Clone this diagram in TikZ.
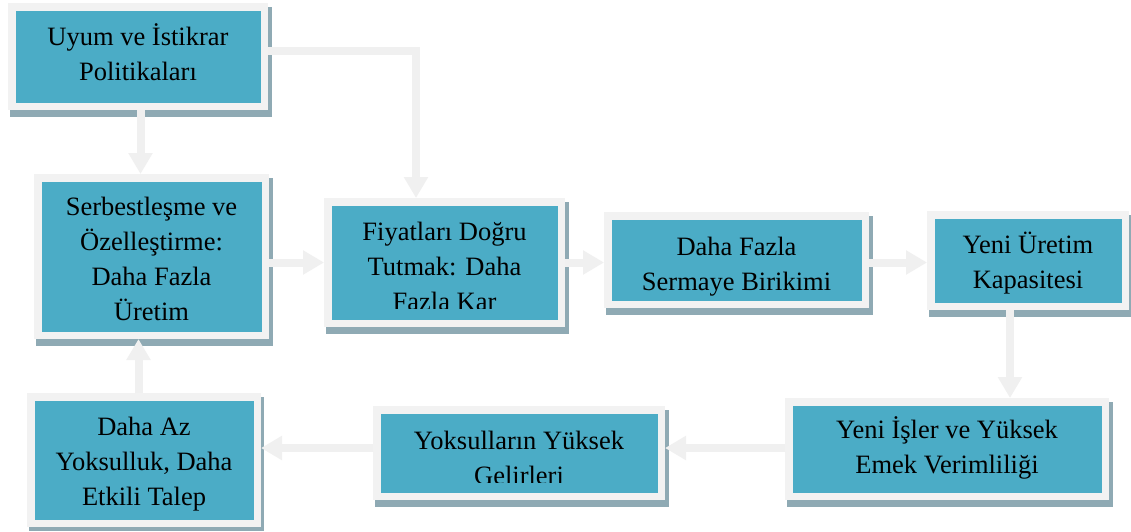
\documentclass[tikz,border=0pt]{standalone}
\usepackage{fontspec}
\setmainfont{Liberation Serif}
\usetikzlibrary{arrows.meta}
\definecolor{boxteal}{HTML}{4BACC6}
\definecolor{boxedge}{HTML}{F2F2F2}
\definecolor{shadowc}{HTML}{8FAAB4}
\definecolor{arrowc}{HTML}{F0F0F0}
\newcommand{\firstl}{\rule{0pt}{24pt}}
\begin{document}
\begin{tikzpicture}[x=1pt,y=-1pt,
  box/.style={draw=boxedge, fill=boxteal, line width=7.5pt, inner sep=0pt, rectangle},
  shade/.style={fill=shadowc},
  txt/.style={align=center, font=\fontsize{26.5}{35}\selectfont, inner sep=0pt, anchor=north, text=black},
  arr/.style={draw=arrowc, line width=8pt, -{Triangle[width=23pt,length=21pt]}}]
\useasboundingbox[fill=white] (0,0) rectangle (1131,531);
% shadows
\fill[shade] (10,7) rectangle (272,117);
\fill[shade] (36,178) rectangle (273,346);
\fill[shade] (326,202) rectangle (569,334);
\fill[shade] (606,216) rectangle (873,315);
\fill[shade] (929,215) rectangle (1131,317);
\fill[shade] (787,402) rectangle (1113,507);
\fill[shade] (375,410) rectangle (669,507);
\fill[shade] (29,397) rectangle (264,531);
% boxes
\node[box, minimum width=252.5pt, minimum height=99.5pt] (u) at (138,56.5) {};
\node[box, minimum width=227.5pt, minimum height=157.5pt] (s) at (151.5,256.5) {};
\node[box, minimum width=233.5pt, minimum height=121.5pt] (f) at (444.5,262.5) {};
\node[box, minimum width=257.5pt, minimum height=88.5pt] (sm) at (736.5,260) {};
\node[box, minimum width=194.5pt, minimum height=91.5pt] (yu) at (1028,260.5) {};
\node[box, minimum width=316.5pt, minimum height=94.5pt] (yi) at (947,449) {};
\node[box, minimum width=284.5pt, minimum height=86.5pt] (yo) at (519,453) {};
\node[box, minimum width=226.5pt, minimum height=126.5pt] (da) at (144,460) {};
% texts
\node[txt] (tu) at (138,21) {\firstl Uyum ve İstikrar\\Politikaları};
\node[txt] (ts) at (151.5,191) {\firstl Serbestleşme ve\\Özelleştirme:\\Daha Fazla\\Üretim};
\begin{scope}
\clip (332,206) rectangle (557,308.5);
\node[txt] (tf) at (444.5,216.5) {\firstl Fiyatları Doğru\\Tutmak: Daha\\Fazla Kar};
\end{scope}
\node[txt] (tsm) at (736.5,231) {\firstl Daha Fazla\\Sermaye Birikimi};
\node[txt] (tyu) at (1028,229) {\firstl Yeni Üretim\\Kapasitesi};
\node[txt] (tyi) at (947,414) {\firstl Yeni İşler ve Yüksek\\Emek Verimliliği};
\begin{scope}
\clip (381,414) rectangle (657,482.5);
\node[txt] (tyo) at (519,425) {\firstl Yoksulların Yüksek\\Gelirleri};
\end{scope}
\node[txt] (tda) at (144,411) {\firstl Daha Az\\Yoksulluk, Daha\\Etkili Talep};
% arrows
\draw[arr] (u.south -| 140.5,0) -- (s.north -| 140.5,0);
\draw[arr] (u.east |- 0,50.5) -| (f.north -| 416,0);
\draw[arr] (s.east |- 0,262.5) -- (f.west |- 0,262.5);
\draw[arr] (f.east |- 0,262.5) -- (sm.west |- 0,262.5);
\draw[arr] (sm.east |- 0,262.5) -- (yu.west |- 0,262.5);
\draw[arr] (yu.south -| 1010,0) -- (yi.north -| 1010,0);
\draw[arr] (yi.west |- 0,448) -- (yo.east |- 0,448);
\draw[arr] (yo.west |- 0,448) -- (da.east |- 0,448);
\draw[arr] (da.north -| 138.5,0) -- (s.south -| 138.5,0);
\end{tikzpicture}
\end{document}
